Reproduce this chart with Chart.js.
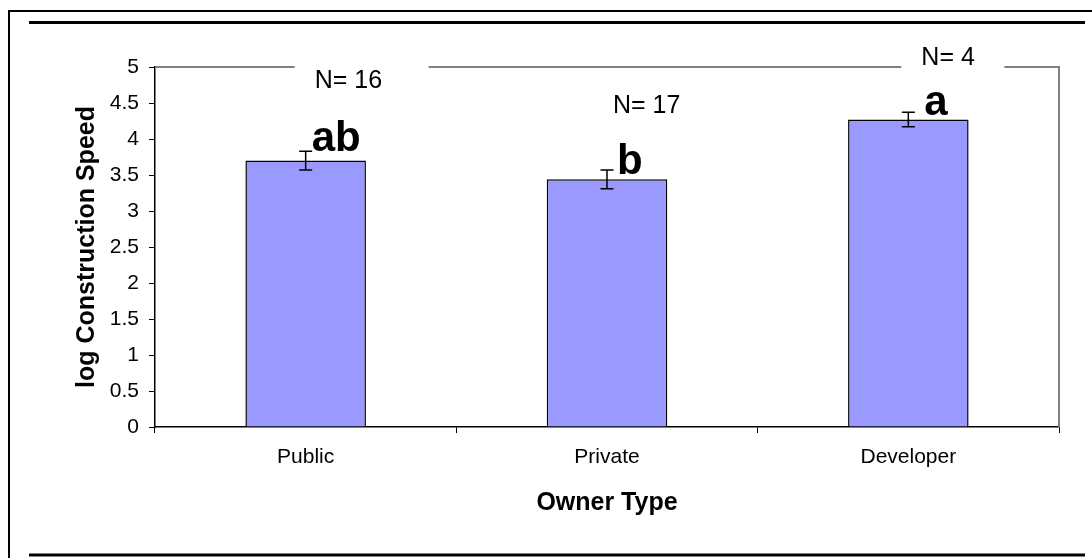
<!DOCTYPE html>
<html>
<head>
<meta charset="utf-8">
<title>log Construction Speed by Owner Type</title>
<script src="https://cdn.jsdelivr.net/npm/chart.js@4/dist/chart.umd.min.js"></script>
<style>
  html, body { margin: 0; padding: 0; background: #fff; }
  #wrap { width: 1092px; height: 558px; position: relative; }
</style>
</head>
<body>
<div id="wrap"><canvas id="c" width="1092" height="558"></canvas></div>
<script>
// ---- data ----
const categories = ['Public', 'Private', 'Developer'];
const meanSpeed = [3.70, 3.44, 4.27];
const stdError = [0.13, 0.13, 0.10];
const sampleSizes = [16, 17, 4];
const groupLetters = ['ab', 'b', 'a'];
const yTickValues = [0, 0.5, 1, 1.5, 2, 2.5, 3, 3.5, 4, 4.5, 5];
const yTickLabels = ['0', '0.5', '1', '1.5', '2', '2.5', '3', '3.5', '4', '4.5', '5'];

const FONT = '"Liberation Sans", Arial, Helvetica, sans-serif';

// outer page frame lines
const framePlugin = {
  id: 'frame',
  beforeDraw(chart) {
    const ctx = chart.ctx;
    ctx.save();
    ctx.strokeStyle = '#000';
    ctx.lineWidth = 2;
    ctx.beginPath();
    ctx.moveTo(9, 558);
    ctx.lineTo(9, 11);
    ctx.lineTo(1092, 11);
    ctx.stroke();
    ctx.lineWidth = 3;
    ctx.beginPath();
    ctx.moveTo(29, 22.5);
    ctx.lineTo(1085, 22.5);
    ctx.moveTo(29, 555);
    ctx.lineTo(1085, 555);
    ctx.stroke();
    ctx.restore();
  }
};

// grey plot-area border on the top and right sides
const plotBorderPlugin = {
  id: 'plotBorder',
  beforeDatasetsDraw(chart) {
    const {ctx, chartArea: a} = chart;
    ctx.save();
    ctx.strokeStyle = '#808080';
    ctx.lineWidth = 2;
    ctx.beginPath();
    ctx.moveTo(a.left, a.top);
    ctx.lineTo(a.right, a.top);
    ctx.lineTo(a.right, a.bottom);
    ctx.stroke();
    ctx.restore();
  }
};

// standard-error whiskers and group letters
const errorBarPlugin = {
  id: 'errorBars',
  afterDatasetsDraw(chart, args, opts) {
    const ctx = chart.ctx;
    const xs = chart.scales.x, ys = chart.scales.y;
    ctx.save();
    ctx.strokeStyle = '#000';
    ctx.lineWidth = 1.5;
    meanSpeed.forEach((m, i) => {
      const x = xs.getPixelForValue(i);
      const yTop = ys.getPixelForValue(m + stdError[i]);
      const yBot = ys.getPixelForValue(m - stdError[i]);
      const hw = opts.capHalfWidth;
      ctx.beginPath();
      ctx.moveTo(x, yTop); ctx.lineTo(x, yBot);
      ctx.moveTo(x - hw, yTop); ctx.lineTo(x + hw, yTop);
      ctx.moveTo(x - hw, yBot); ctx.lineTo(x + hw, yBot);
      ctx.stroke();

      // significance group letter, set just right of the whisker top
      ctx.fillStyle = '#000';
      ctx.font = 'bold 42px ' + FONT;
      ctx.textAlign = 'left';
      ctx.textBaseline = 'alphabetic';
      ctx.fillText(groupLetters[i], x + opts.letterDx[i], yTop + opts.letterDy[i]);
    });
    ctx.restore();
  }
};

// sample-size boxes
const sampleSizePlugin = {
  id: 'sampleSizes',
  afterDatasetsDraw(chart, args, opts) {
    const ctx = chart.ctx;
    const xs = chart.scales.x, ys = chart.scales.y;
    ctx.save();
    ctx.font = '25px ' + FONT;
    ctx.textAlign = 'left';
    ctx.textBaseline = 'middle';
    sampleSizes.forEach((n, i) => {
      const tx = xs.getPixelForValue(i) + opts.dx[i];
      const ty = ys.getPixelForValue(opts.yValue[i]);
      ctx.fillStyle = '#fff';
      ctx.fillRect(tx - 20, ty - 22, opts.boxWidth[i], 44);
      ctx.fillStyle = '#000';
      ctx.fillText('N= ' + n, tx, ty);
    });
    ctx.restore();
  }
};

new Chart(document.getElementById('c'), {
  type: 'bar',
  data: {
    labels: categories,
    datasets: [{
      data: meanSpeed,
      backgroundColor: '#9999FF',
      borderColor: '#000',
      borderWidth: 1.5,
      borderSkipped: 'start',
      barPercentage: 0.4,
      categoryPercentage: 1.0
    }]
  },
  options: {
    responsive: false,
    animation: false,
    devicePixelRatio: 1,
    layout: { padding: { top: 67, right: 33, left: 0, bottom: 0 } },
    plugins: {
      legend: { display: false },
      tooltip: { enabled: false },
      errorBars: { capHalfWidth: 6.5, letterDx: [6, 10, 16], letterDy: [0, 4, 3] },
      sampleSizes: { dx: [9, 6, 13], yValue: [4.80, 4.46, 5.13], boxWidth: [134, 134, 103] }
    },
    scales: {
      x: {
        offset: true,
        grid: { offset: true, drawOnChartArea: false, drawTicks: true, tickLength: 6, color: '#000', lineWidth: 1 },
        border: { color: '#000', width: 1.5 },
        ticks: { color: '#000', font: { family: FONT, size: 21 }, padding: 12, maxRotation: 0 },
        title: {
          display: true, text: 'Owner Type', color: '#000',
          font: { family: FONT, size: 25, weight: 'bold' },
          padding: { top: 0, bottom: 40 }
        },
        afterFit(s) { s.height = 131; }
      },
      y: {
        min: 0, max: 5,
        afterBuildTicks(s) { s.ticks = yTickValues.map(v => ({ value: v })); },
        grid: { drawOnChartArea: false, drawTicks: true, tickLength: 6, color: '#000', lineWidth: 1 },
        border: { color: '#000', width: 1.5 },
        ticks: {
          color: '#000', font: { family: FONT, size: 21 }, padding: 10,
          callback(value, index) { return yTickLabels[index]; }
        },
        title: {
          display: true, text: 'log Construction Speed', color: '#000',
          font: { family: FONT, size: 25, weight: 'bold' },
          padding: { top: 72, bottom: 0 }
        },
        afterFit(s) { s.width = 155; }
      }
    }
  },
  plugins: [framePlugin, plotBorderPlugin, errorBarPlugin, sampleSizePlugin]
});
</script>
</body>
</html>
